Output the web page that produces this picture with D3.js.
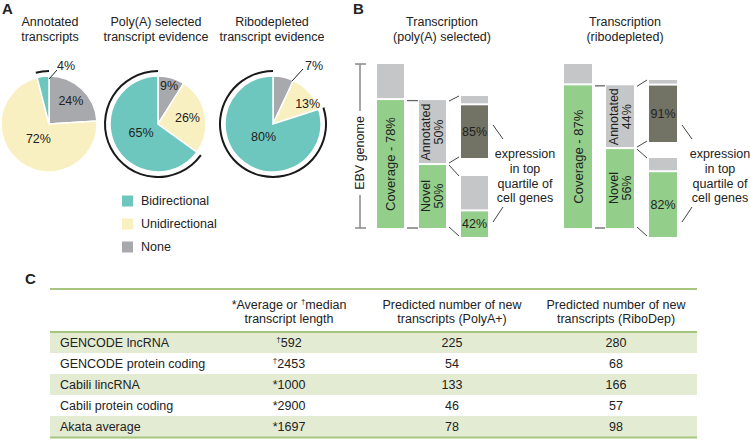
<!DOCTYPE html>
<html><head><meta charset="utf-8">
<script src="https://cdn.jsdelivr.net/npm/d3@7/dist/d3.min.js"></script>
<style>
html,body{margin:0;padding:0;background:#fff;}
svg{display:block;font-family:"Liberation Sans",Arial,Helvetica,sans-serif;}
</style></head>
<body><svg id="fig" width="750" height="440"></svg>
<script>
// ---------------- DATA ----------------
const pieTitles = [["Annotated","transcripts"],["Poly(A) selected","transcript evidence"],["Ribodepleted","transcript evidence"]];
const pieCategories = ["None","Unidirectional","Bidirectional"];
const pieAnnotated = [24, 72, 4];
const piePolyA = [9, 26, 65];
const pieRibo = [7, 13, 80];
const legendLabels = ["Bidirectional","Unidirectional","None"];

const bTitles = [["Transcription","(poly(A) selected)"],["Transcription","(ribodepleted)"]];
const coverage = [78, 87];
const annotatedShare = [50, 44];
const novelShare = [50, 56];
const annotatedTopQuartile = [85, 91];
const novelTopQuartile = [42, 82];
const expressionNote = ["expression","in top","quartile of","cell genes"];

const tableHeader = [["",""],["*Average or \u2020median","transcript length"],["Predicted number of new","transcripts (PolyA+)"],["Predicted number of new","transcripts (RiboDep)"]];
const tableRows = ["GENCODE lncRNA","GENCODE protein coding","Cabili lincRNA","Cabili protein coding","Akata average"];
const lengthMarks = ["\u2020","\u2020","*","*","*"];
const lengths = [592, 2453, 1000, 2900, 1697];
const polyA = [225, 54, 133, 46, 78];
const riboDep = [280, 68, 166, 57, 98];

// ---------------- STYLE ----------------
const C = {teal:"#6ec7be", yellow:"#f9f0c2", grey:"#a8a9ad", green:"#93cf8a", lgrey:"#c5c6c8", dgrey:"#727364", text:"#222"};
const colorOf = d3.scaleOrdinal().domain(pieCategories).range([C.grey, C.yellow, C.teal]);
const FS = 12.5;
const svg = d3.select("#fig");

function txt(g, x, y, s, opt={}) {
  return g.append("text").attr("x", x).attr("y", y)
    .attr("text-anchor", opt.anchor || "middle")
    .attr("dominant-baseline", "central")
    .attr("font-size", opt.size || FS)
    .attr("font-weight", opt.weight || null)
    .attr("fill", C.text).text(s);
}

// panel letters
txt(svg, 2, 8, "A", {anchor:"start", size:15, weight:"bold"});
txt(svg, 353, 8, "B", {anchor:"start", size:15, weight:"bold"});
txt(svg, 25, 278, "C", {anchor:"start", size:15, weight:"bold"});

// ---------------- PANEL A: pies ----------------
const pieData = [pieAnnotated, piePolyA, pieRibo];
const pieCx = [49, 158, 273], pieCy = 124, R = 48;
const titleCx = [50, 156, 272];
// label layout: [radius, angle override(deg) or null]; null radius = outside leader label
const labelLayout = [
  [[32,null],[18,null],null],
  [[40,null],[30,null],[19,null]],
  [null,[40,60],[16,null]]
];
const outsideLabel = [{slice:2, from:[0,-45], to:[8,-54], tx:17}, null, {slice:0, from:[19,-43], to:[30,-55], tx:41}];
const pieGen = d3.pie().sort(null).value(d => d);
const arc = d3.arc().innerRadius(0).outerRadius(R);
const outerArc = d3.arc().innerRadius(R+4).outerRadius(R+6);

pieData.forEach((vals, i) => {
  const g = svg.append("g").attr("transform", `translate(${pieCx[i]},${pieCy})`);
  const arcs = pieGen(vals);
  g.selectAll("path.slice").data(arcs).join("path").attr("class","slice")
    .attr("d", arc).attr("fill", (d,j) => colorOf(pieCategories[j]))
    .attr("stroke", "#fff").attr("stroke-width", 1.5);
  // black outline arc around the Bidirectional slice
  const bi = arcs[2];
  g.append("path").attr("d", outerArc({startAngle: bi.startAngle, endAngle: bi.endAngle})).attr("fill", "#1a1a1a");
  arcs.forEach((a, j) => {
    const lay = labelLayout[i][j];
    const label = vals[j] + "%";
    if (lay) {
      const ang = lay[1] != null ? lay[1]*Math.PI/180 : (a.startAngle + a.endAngle)/2;
      txt(g, lay[0]*Math.sin(ang), -lay[0]*Math.cos(ang), label);
    }
  });
  const ol = outsideLabel[i];
  if (ol) {
    g.append("line").attr("x1", ol.from[0]).attr("y1", ol.from[1]).attr("x2", ol.to[0]).attr("y2", ol.to[1])
      .attr("stroke", "#222").attr("stroke-width", 1);
    txt(g, ol.tx, -58, vals[ol.slice] + "%");
  }
  // title
  pieTitles[i].forEach((t, k) => txt(svg, titleCx[i], 22 + k*15, t));
});

// legend
const leg = svg.append("g");
legendLabels.forEach((l, k) => {
  const y = 201 + k*23;
  leg.append("rect").attr("x", 122).attr("y", y-5.5).attr("width", 11).attr("height", 11).attr("fill", colorOf(l === "Bidirectional" ? "Bidirectional" : l === "Unidirectional" ? "Unidirectional" : "None"));
  txt(leg, 141, y, l, {anchor:"start"});
});

// ---------------- PANEL B ----------------
const gTop = 64, gBot = 228;
const groups = [
  {titleX:442, x1:377, x2:419, x3:461, bw:27, topBox:[96,158], botBox:[176,237], noteX:525, leaderX:[493,503]},
  {titleX:625, x1:564, x2:606, x3:649, bw:28, topBox:[80,142], botBox:[158,237], noteX:720, leaderX:[682,692]}
];
const gap = 2;
groups.forEach((L, i) => {
  const g = svg.append("g");
  bTitles[i].forEach((t, k) => txt(g, L.titleX, 22 + k*15, t));
  const y = d3.scaleLinear().domain([0, 100]).range([gBot, gTop]);
  const covTop = y(coverage[i]);
  // bar 1
  g.append("rect").attr("x", L.x1).attr("y", gTop).attr("width", L.bw).attr("height", covTop - gTop - gap).attr("fill", C.lgrey);
  g.append("rect").attr("x", L.x1).attr("y", covTop).attr("width", L.bw).attr("height", gBot - covTop).attr("fill", C.green);
  g.append("text").attr("transform", `translate(${L.x1 + L.bw/2},${(covTop+gBot)/2}) rotate(-90)`)
    .attr("text-anchor","middle").attr("dominant-baseline","central").attr("font-size", 13).attr("fill", C.text)
    .text(`Coverage - ${coverage[i]}%`);
  // bracket ticks
  [covTop+0.5, gBot].forEach(yy => g.append("line").attr("x1", L.x1+L.bw+3).attr("x2", L.x2-1).attr("y1", yy).attr("y2", yy).attr("stroke", "#666").attr("stroke-width", 1.3));
  // bar 2 : annotated / novel share of coverage
  const y2 = d3.scaleLinear().domain([0, 100]).range([gBot, covTop]);
  const split = y2(novelShare[i]);
  g.append("rect").attr("x", L.x2).attr("y", covTop).attr("width", L.bw).attr("height", split - covTop - gap/2).attr("fill", C.lgrey);
  g.append("rect").attr("x", L.x2).attr("y", split + gap/2).attr("width", L.bw).attr("height", gBot - split - gap/2).attr("fill", C.green);
  const cx2 = L.x2 + L.bw/2;
  [["Annotated", annotatedShare[i] + "%", (covTop+split)/2], ["Novel", novelShare[i] + "%", (split+gBot)/2]].forEach(([a, b, cy]) => {
    const t = g.append("text").attr("transform", `translate(${cx2},${cy}) rotate(-90)`)
      .attr("text-anchor","middle").attr("font-size", FS).attr("fill", C.text);
    t.append("tspan").attr("x", 0).attr("y", -2.5).text(a);
    t.append("tspan").attr("x", 0).attr("y", 10.5).text(b);
  });
  // bar 3 boxes
  const boxes = [
    {box:L.topBox, val:annotatedTopQuartile[i], fill:C.dgrey, from:[covTop, split]},
    {box:L.botBox, val:novelTopQuartile[i], fill:C.green, from:[split, gBot]}
  ];
  boxes.forEach(B => {
    const yb = d3.scaleLinear().domain([0, 100]).range([B.box[1], B.box[0]]);
    const ySplit = yb(B.val);
    g.append("rect").attr("x", L.x3).attr("y", B.box[0]).attr("width", L.bw).attr("height", ySplit - B.box[0] - gap).attr("fill", C.lgrey);
    g.append("rect").attr("x", L.x3).attr("y", ySplit).attr("width", L.bw).attr("height", B.box[1] - ySplit).attr("fill", B.fill);
    txt(g, L.x3 + L.bw/2, (ySplit + B.box[1])/2, B.val + "%");
    // connector lines
    g.append("line").attr("x1", L.x2+L.bw+3).attr("y1", B.from[0]+1).attr("x2", L.x3-2).attr("y2", B.box[0]).attr("stroke", "#444").attr("stroke-width", 1);
    g.append("line").attr("x1", L.x2+L.bw+3).attr("y1", B.from[1]-1).attr("x2", L.x3-2).attr("y2", B.box[1]-1).attr("stroke", "#444").attr("stroke-width", 1);
  });
  // expression note
  expressionNote.forEach((t, k) => txt(g, L.noteX, 154 + k*14.8, t));
  g.append("line").attr("x1", L.leaderX[0]).attr("y1", 125).attr("x2", L.leaderX[1]).attr("y2", 139).attr("stroke", "#444");
  g.append("line").attr("x1", L.leaderX[0]).attr("y1", 222).attr("x2", L.leaderX[1]).attr("y2", 207).attr("stroke", "#444");
});
// EBV genome bracket
const eb = svg.append("g").attr("stroke", "#888").attr("stroke-width", 1.5);
eb.append("line").attr("x1", 360).attr("x2", 360).attr("y1", gTop).attr("y2", gBot);
eb.append("line").attr("x1", 355).attr("x2", 366).attr("y1", gTop).attr("y2", gTop);
eb.append("line").attr("x1", 355).attr("x2", 366).attr("y1", gBot).attr("y2", gBot);
svg.append("rect").attr("x", 352).attr("y", 111).attr("width", 16).attr("height", 84).attr("fill", "#fff");
svg.append("text").attr("transform", "translate(360,153) rotate(-90)").attr("text-anchor","middle")
  .attr("dominant-baseline","central").attr("font-size", FS).attr("fill", C.text).text("EBV genome");

// ---------------- PANEL C: table ----------------
const tx0 = 50, tx1 = 697;
const colX = [60, 289, 452, 616];
const rowScale = d3.scaleBand().domain(tableRows).range([332, 437]);
const tg = svg.append("g");
tableRows.forEach((r, k) => {
  if (k % 2 === 0) tg.append("rect").attr("x", tx0).attr("y", rowScale(r)).attr("width", tx1 - tx0).attr("height", rowScale.bandwidth()).attr("fill", "#e3ebd3");
});
[289, 332, 437.5].forEach(yy => tg.append("line").attr("x1", tx0).attr("x2", tx1).attr("y1", yy).attr("y2", yy).attr("stroke", "#a6c57f").attr("stroke-width", 2));
tableHeader.forEach((h, c) => {
  h.forEach((line, k) => {
    if (!line) return;
    const t = tg.append("text").attr("x", colX[c]).attr("y", 305 + k*13.5).attr("text-anchor","middle")
      .attr("dominant-baseline","central").attr("font-size", FS).attr("fill", C.text);
    if (line.includes("\u2020")) {
      const parts = line.split("\u2020");
      t.append("tspan").text(parts[0]);
      t.append("tspan").attr("font-size", 8).attr("dy", -4).text("\u2020");
      t.append("tspan").attr("dy", 4).text(parts[1]);
    } else t.text(line);
  });
});
tableRows.forEach((r, k) => {
  const cy = rowScale(r) + rowScale.bandwidth()/2;
  txt(tg, colX[0], cy, r, {anchor:"start"});
  const t = tg.append("text").attr("x", colX[1]).attr("y", cy).attr("text-anchor","middle")
    .attr("dominant-baseline","central").attr("font-size", FS).attr("fill", C.text);
  if (lengthMarks[k] === "\u2020") {
    t.append("tspan").attr("font-size", 8).attr("dy", -4).text("\u2020");
    t.append("tspan").attr("dy", 4).text(lengths[k]);
  } else t.text(lengthMarks[k] + lengths[k]);
  txt(tg, colX[2], cy, polyA[k]);
  txt(tg, colX[3], cy, riboDep[k]);
});
</script></body></html>
